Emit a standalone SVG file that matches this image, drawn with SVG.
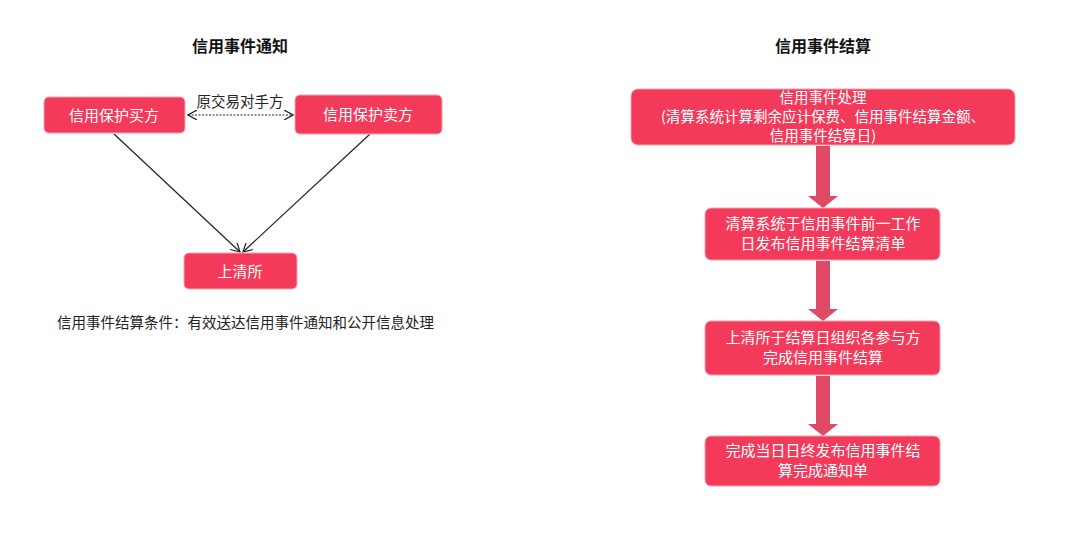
<svg xmlns="http://www.w3.org/2000/svg" width="1080" height="543" viewBox="0 0 1080 543">
<style>
text{font-family:"Noto Sans CJK SC","Liberation Sans",sans-serif}
.n{fill:#f43a5a;stroke:#f7a0ae;stroke-width:1}
.w{fill:#fff;font-size:15px;text-anchor:middle}
.s{font-size:14.5px}
.t{font-size:16px;font-weight:bold;text-anchor:middle;fill:#111}
.k{font-size:14.5px;fill:#222}
.ln{stroke:#222;stroke-width:1.2;fill:none}
.big{fill:#e04a64}
</style>
<defs>
<marker id="op" viewBox="0 0 10 10" refX="9" refY="5" markerWidth="10" markerHeight="10" orient="auto-start-reverse" markerUnits="userSpaceOnUse"><path d="M0,0 L9,5 L0,10" fill="none" stroke="#222" stroke-width="1.2"/></marker>
</defs>
<rect width="1080" height="543" fill="#fff"/>
<text class="t" x="240" y="52">信用事件通知</text>
<text class="t" x="823" y="52">信用事件结算</text>
<g id="connectors">
<path class="ln" d="M188,115 H293" stroke-dasharray="2,1.5" marker-start="url(#op)" marker-end="url(#op)"/>
<path class="ln" d="M114,134 L240,252" marker-end="url(#op)"/>
<path class="ln" d="M370,134 L243,252" marker-end="url(#op)"/>
<path class="big" d="M816,146 H830 V196 H838 L823,208 L808,196 H816 Z"/>
<path class="big" d="M816,261 H830 V309 H838 L823,321 L808,309 H816 Z"/>
<path class="big" d="M816,376 H830 V424 H838 L823,436 L808,424 H816 Z"/>
</g>
<text class="k" x="240" y="107" text-anchor="middle">原交易对手方</text>
<g id="buyer"><rect class="n" x="44" y="97" width="141" height="36" rx="5"/><text class="w" x="114" y="121">信用保护买方</text></g>
<g id="seller"><rect class="n" x="295" y="95" width="147" height="39" rx="5"/><text class="w" x="368" y="120">信用保护卖方</text></g>
<g id="shclearing"><rect class="n" x="184" y="253" width="113" height="36" rx="5"/><text class="w" x="240" y="277">上清所</text></g>
<text class="k" x="57" y="328">信用事件结算条件：有效送达信用事件通知和公开信息处理</text>
<g id="s1"><rect class="n" x="631" y="89" width="384" height="56" rx="7"/>
<text class="w s" x="823" y="103">信用事件处理</text>
<text class="w s" x="823" y="122">(清算系统计算剩余应计保费、信用事件结算金额、</text>
<text class="w s" x="823" y="141">信用事件结算日)</text></g>
<g id="s2"><rect class="n" x="705" y="208" width="235" height="52" rx="6"/>
<text class="w" x="823" y="229">清算系统于信用事件前一工作</text>
<text class="w" x="823" y="249">日发布信用事件结算清单</text></g>
<g id="s3"><rect class="n" x="705" y="321" width="235" height="54" rx="6"/>
<text class="w" x="823" y="343">上清所于结算日组织各参与方</text>
<text class="w" x="823" y="363">完成信用事件结算</text></g>
<g id="s4"><rect class="n" x="705" y="436" width="235" height="50" rx="6"/>
<text class="w" x="823" y="456">完成当日日终发布信用事件结</text>
<text class="w" x="823" y="476">算完成通知单</text></g>
</svg>
